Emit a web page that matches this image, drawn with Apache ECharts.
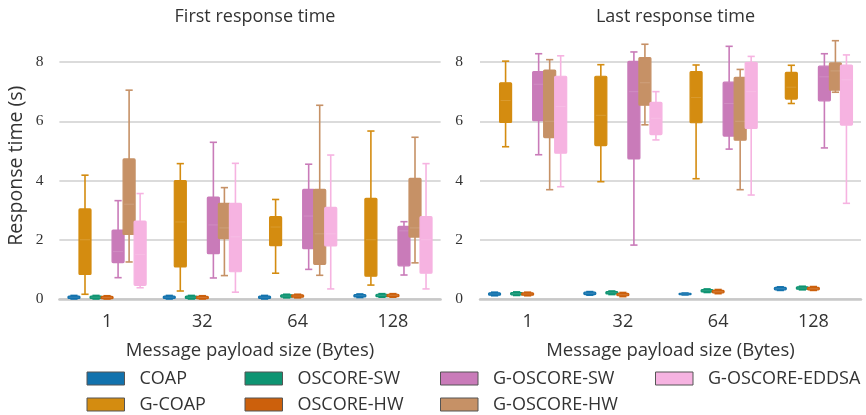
<!DOCTYPE html>
<html><head><meta charset="utf-8">
<script src="https://cdn.jsdelivr.net/npm/echarts@6/dist/echarts.min.js"></script>
<style>html,body{margin:0;padding:0;background:#fff}#c{width:866px;height:415px}</style>
</head><body><div id="c"></div>
<script>
const categories = ['1', '32', '64', '128'];
const seriesNames = ['COAP', 'G-COAP', 'OSCORE-SW', 'OSCORE-HW', 'G-OSCORE-SW', 'G-OSCORE-HW', 'G-OSCORE-EDDSA'];
const seriesColors = ['#1272ad', '#d48c10', '#0e9472', '#cc600c', '#c97bb9', '#c69166', '#f6b3e1'];
const yTicks = [0, 2, 4, 6, 8];
const panelTitles = ['First response time', 'Last response time'];

// [min, q1, median, q3, max] per payload size (1, 32, 64, 128)
const firstCOAP      = [[0.0, 0.02, 0.06, 0.10, 0.12], [0.0, 0.02, 0.06, 0.10, 0.12], [0.0, 0.02, 0.06, 0.10, 0.12], [0.05, 0.07, 0.11, 0.15, 0.17]];
const firstGCOAP     = [[0.16, 0.83, 2.0, 3.04, 4.18], [0.27, 1.08, 2.6, 4.0, 4.57], [0.87, 1.8, 2.43, 2.78, 3.36], [0.47, 0.77, 2.0, 3.4, 5.67]];
const firstOSCORESW  = [[0.0, 0.02, 0.06, 0.10, 0.12], [0.0, 0.02, 0.06, 0.10, 0.12], [0.04, 0.06, 0.10, 0.14, 0.16], [0.06, 0.08, 0.12, 0.16, 0.18]];
const firstOSCOREHW  = [[0.0, 0.01, 0.05, 0.09, 0.11], [0.0, 0.01, 0.05, 0.09, 0.11], [0.04, 0.06, 0.10, 0.14, 0.16], [0.06, 0.08, 0.12, 0.16, 0.18]];
const firstGOSCORESW = [[0.72, 1.23, 1.6, 2.33, 3.32], [0.71, 1.53, 2.5, 3.44, 5.29], [1.0, 1.7, 2.8, 3.7, 4.55], [0.81, 1.12, 2.3, 2.45, 2.61]];
const firstGOSCOREHW = [[1.25, 2.18, 3.2, 4.73, 7.05], [0.79, 2.04, 2.4, 3.23, 3.76], [0.8, 1.17, 2.2, 3.7, 6.54], [1.22, 2.09, 2.4, 4.07, 5.46]];
const firstEDDSA     = [[0.38, 0.46, 1.5, 2.63, 3.56], [0.23, 0.92, 2.1, 3.23, 4.58], [0.34, 1.79, 2.2, 3.09, 4.86], [0.34, 0.87, 2.0, 2.78, 4.57]];

const lastCOAP       = [[0.11, 0.13, 0.17, 0.21, 0.23], [0.13, 0.15, 0.19, 0.23, 0.25], [0.14, 0.15, 0.17, 0.19, 0.20], [0.29, 0.31, 0.35, 0.39, 0.41]];
const lastGCOAP      = [[5.14, 5.96, 6.7, 7.3, 8.03], [3.96, 5.18, 6.2, 7.52, 7.91], [4.06, 5.95, 6.8, 7.68, 7.9], [6.6, 6.75, 7.15, 7.65, 7.89]];
const lastOSCORESW   = [[0.12, 0.14, 0.18, 0.22, 0.24], [0.15, 0.17, 0.21, 0.25, 0.27], [0.22, 0.24, 0.28, 0.32, 0.34], [0.31, 0.33, 0.37, 0.41, 0.43]];
const lastOSCOREHW   = [[0.11, 0.13, 0.17, 0.21, 0.23], [0.08, 0.11, 0.15, 0.19, 0.22], [0.18, 0.21, 0.25, 0.29, 0.32], [0.29, 0.31, 0.35, 0.39, 0.42]];
const lastGOSCORESW  = [[4.87, 6.02, 7.25, 7.68, 8.28], [1.82, 4.73, 7.0, 8.02, 8.34], [5.06, 5.5, 6.6, 7.32, 8.53], [5.1, 6.69, 7.5, 7.86, 8.28]];
const lastGOSCOREHW  = [[3.69, 5.45, 6.0, 7.73, 8.08], [5.88, 6.54, 7.3, 8.15, 8.6], [3.69, 5.36, 6.0, 7.48, 7.75], [6.98, 7.05, 7.7, 7.97, 8.72]];
const lastEDDSA      = [[3.79, 4.92, 6.5, 7.52, 8.21], [5.37, 5.55, 6.1, 6.64, 7.0], [3.51, 5.76, 7.0, 7.99, 8.19], [3.23, 5.87, 7.4, 7.9, 8.24]];

const firstData = [firstCOAP, firstGCOAP, firstOSCORESW, firstOSCOREHW, firstGOSCORESW, firstGOSCOREHW, firstEDDSA];
const lastData = [lastCOAP, lastGCOAP, lastOSCORESW, lastOSCOREHW, lastGOSCORESW, lastGOSCOREHW, lastEDDSA];

const SANS = 'Open Sans';
const SERIF = 'Liberation Serif';
const TXT = '#333333';

function renderBox(k) {
  return function (params, api) {
    const ci = api.value(0);
    const bw = api.size([1, 0])[0];
    const cx = api.coord([ci, 0])[0] + (k - 3) * bw * 0.1157;
    const py = function (i) { return api.coord([ci, api.value(i)])[1]; };
    const yMin = py(1), yQ1 = py(2), yMed = py(3), yQ3 = py(4), yMax = py(5);
    const hw = bw * 0.063, cw = 3.6;
    const color = api.visual('color');
    const ls = { stroke: color, lineWidth: 1.6 };
    return {
      type: 'group',
      children: [
        { type: 'line', shape: { x1: cx, y1: yQ3, x2: cx, y2: yMax }, style: ls },
        { type: 'line', shape: { x1: cx, y1: yQ1, x2: cx, y2: yMin }, style: ls },
        { type: 'line', shape: { x1: cx - cw, y1: yMax, x2: cx + cw, y2: yMax }, style: ls },
        { type: 'line', shape: { x1: cx - cw, y1: yMin, x2: cx + cw, y2: yMin }, style: ls },
        { type: 'rect', shape: { x: cx - hw, y: yQ3, width: 2 * hw, height: yQ1 - yQ3, r: 1 },
          style: { fill: color, stroke: color, lineWidth: 1.2 } },
        { type: 'line', shape: { x1: cx - hw + 1, y1: yMed, x2: cx + hw - 1, y2: yMed },
          style: { stroke: 'rgba(255,255,255,0.14)', lineWidth: 1 } }
      ]
    };
  };
}

const grids = [
  { left: 59.4, width: 381.2, top: 32.4, bottom: 116 },
  { left: 480, width: 381, top: 32.4, bottom: 116 }
];

function xAxisFor(i) {
  return {
    type: 'category', gridIndex: i, data: categories,
    axisLine: { show: true, lineStyle: { color: '#c8c8c8', width: 2.5 } },
    axisTick: { show: false },
    axisLabel: { fontFamily: SANS, fontSize: 18, color: TXT, margin: 14 },
    name: 'Message payload size (Bytes)', nameLocation: 'middle', nameGap: 42,
    nameTextStyle: { fontFamily: SANS, fontSize: 18.5, color: TXT }
  };
}
function yAxisFor(i) {
  const ax = {
    type: 'value', gridIndex: i, min: 0, max: 9,
    axisLine: { show: false }, axisTick: { show: false, customValues: yTicks },
    axisLabel: { customValues: yTicks, fontFamily: SERIF, fontSize: 15.5, color: TXT, margin: i === 0 ? 16 : 17 },
    splitLine: { show: true, lineStyle: { color: '#cfcfcf', width: 1.5 } }
  };
  if (i === 0) {
    ax.name = 'Response time (s)';
    ax.nameLocation = 'middle';
    ax.nameGap = 33;
    ax.nameTextStyle = { fontFamily: SANS, fontSize: 19.5, color: TXT };
  }
  return ax;
}

const series = [];
[firstData, lastData].forEach(function (panel, p) {
  panel.forEach(function (rows, k) {
    series.push({
      type: 'custom', name: seriesNames[k], xAxisIndex: p, yAxisIndex: p,
      itemStyle: { color: seriesColors[k] },
      renderItem: renderBox(k),
      encode: { x: 0, y: [1, 2, 3, 4, 5] },
      data: rows.map(function (r, ci) { return [ci].concat(r); })
    });
  });
});

const legendCols = [
  { left: 86.5, names: ['COAP', 'G-COAP'] },
  { left: 244.5, names: ['OSCORE-SW', 'OSCORE-HW'] },
  { left: 440, names: ['G-OSCORE-SW', 'G-OSCORE-HW'] },
  { left: 655, names: ['G-OSCORE-EDDSA'] }
];

const option = {
  animation: false,
  backgroundColor: '#ffffff',
  title: panelTitles.map(function (t, i) {
    return {
      text: t, left: i === 0 ? 250 : 670.5, textAlign: 'center', top: 3,
      textStyle: { fontFamily: SANS, fontSize: 18, fontWeight: 'normal', color: TXT }
    };
  }),
  grid: grids,
  xAxis: [xAxisFor(0), xAxisFor(1)],
  yAxis: [yAxisFor(0), yAxisFor(1)],
  legend: legendCols.map(function (c) {
    return {
      orient: 'vertical', left: c.left, top: 369.5, height: 46, padding: 0, data: c.names,
      icon: 'rect', itemWidth: 37.5, itemHeight: 13, itemGap: 8,
      itemStyle: { borderColor: '#555555', borderWidth: 1 },
      textStyle: { fontFamily: SANS, fontSize: 18, color: TXT, lineHeight: 18, padding: [0, 0, 0, 10] },
      selectedMode: false
    };
  }),
  series: series
};

const chart = echarts.init(document.getElementById('c'), null, { renderer: 'canvas' });
chart.setOption(option);
</script>
</body></html>
